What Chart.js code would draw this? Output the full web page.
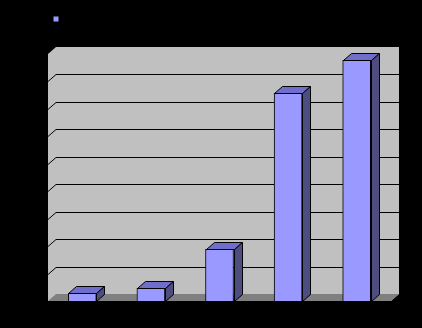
<!DOCTYPE html>
<html>
<head>
<meta charset="utf-8">
<script src="https://cdn.jsdelivr.net/npm/chart.js@4"></script>
<style>
  html, body { margin: 0; padding: 0; background: #000; }
  #wrap { width: 422px; height: 328px; }
</style>
</head>
<body>
<div id="wrap"><canvas id="barChart" width="422" height="328"></canvas></div>
<script>
const categories = ['1', '2', '3', '4', '5'];
const seriesValues = [2.8, 4.6, 18.8, 75.7, 87.7];
const yTicks = [0, 10, 20, 30, 40, 50, 60, 70, 80, 90];

const DX = 8, DY = 7;

// extra room under the legend
const legendGap = {
    id: 'legendGap',
    beforeInit(chart) {
        const fit = chart.legend.fit;
        chart.legend.fit = function () {
            fit.bind(chart.legend)();
            this.height += 20;
        };
    }
};

// gray walls, floor and back-wall gridlines, then 3D faces of the bars
const wallPlugin = {
    id: 'walls',
    beforeDraw(chart) {
        const c = chart.ctx;
        c.save();
        c.fillStyle = '#000';
        c.fillRect(0, 0, chart.width, chart.height);
        c.restore();
    },
    beforeDatasetsDraw(chart) {
        const c = chart.ctx, a = chart.chartArea, y = chart.scales.y;
        const top = y.getPixelForValue(90) - DY;
        const base = y.getPixelForValue(0);
        c.save();
        c.fillStyle = '#c0c0c0';
        c.beginPath();
        c.moveTo(a.left, base);
        c.lineTo(a.left, top + DY);
        c.lineTo(a.left + DX, top);
        c.lineTo(a.right + DX, top);
        c.lineTo(a.right + DX, base - DY);
        c.lineTo(a.right, base);
        c.closePath();
        c.fill();
        // floor
        c.fillStyle = '#808080';
        c.beginPath();
        c.moveTo(a.left, base);
        c.lineTo(a.left + DX, base - DY);
        c.lineTo(a.right + DX, base - DY);
        c.lineTo(a.right, base);
        c.closePath();
        c.fill();
        // gridlines
        c.strokeStyle = '#000';
        c.lineWidth = 1;
        y.ticks.forEach(t => {
            if (t.value <= 0 || t.value >= 90) return;
            const yy = Math.round(y.getPixelForValue(t.value) - DY) + 0.5;
            c.beginPath();
            c.moveTo(a.left, yy + DY);
            c.lineTo(a.left + DX, yy);
            c.lineTo(a.right + DX, yy);
            c.stroke();
        });
        c.restore();
    },
    afterDatasetsDraw(chart) {
        const c = chart.ctx;
        const meta = chart.getDatasetMeta(0);
        c.save();
        c.strokeStyle = '#000';
        c.lineWidth = 1;
        meta.data.forEach(bar => {
            const p = bar.getProps(['x', 'y', 'width', 'base'], true);
            const l = Math.round(p.x - p.width / 2) + 0.5;
            const r = Math.round(p.x + p.width / 2) + 0.5;
            const t = Math.round(p.y) + 0.5;
            const b = Math.round(p.base) + 0.5;
            // top face
            c.fillStyle = '#6f6fcb';
            c.beginPath();
            c.moveTo(l, t);
            c.lineTo(l + DX, t - DY);
            c.lineTo(r + DX, t - DY);
            c.lineTo(r, t);
            c.closePath();
            c.fill();
            c.stroke();
            // side face
            c.fillStyle = '#4d4d80';
            c.beginPath();
            c.moveTo(r, t);
            c.lineTo(r + DX, t - DY);
            c.lineTo(r + DX, b - DY);
            c.lineTo(r, b);
            c.closePath();
            c.fill();
            c.stroke();
        });
        c.restore();
    }
};

new Chart(document.getElementById('barChart'), {
    type: 'bar',
    data: {
        labels: categories,
        datasets: [{
            label: 'Series1',
            data: seriesValues,
            backgroundColor: '#9999ff',
            borderColor: '#000',
            borderWidth: 1,
            barThickness: 28
        }]
    },
    options: {
        responsive: false,
        animation: false,
        layout: { padding: { top: 1, left: 40, right: 31, bottom: 19 } },
        plugins: {
            legend: {
                align: 'start',
                labels: {
                    color: '#000',
                    boxWidth: 6,
                    boxHeight: 6,
                    padding: 13,
                    font: { family: 'Arial', size: 10 }
                }
            },
            tooltip: { enabled: false }
        },
        scales: {
            x: {
                grid: { display: false },
                border: { display: false },
                ticks: { display: false }
            },
            y: {
                min: 0,
                max: 90,
                afterBuildTicks: s => { s.ticks = yTicks.map(v => ({ value: v })); },
                grid: { display: false },
                border: { display: false },
                ticks: { display: false }
            }
        }
    },
    plugins: [legendGap, wallPlugin]
});
</script>
</body>
</html>
